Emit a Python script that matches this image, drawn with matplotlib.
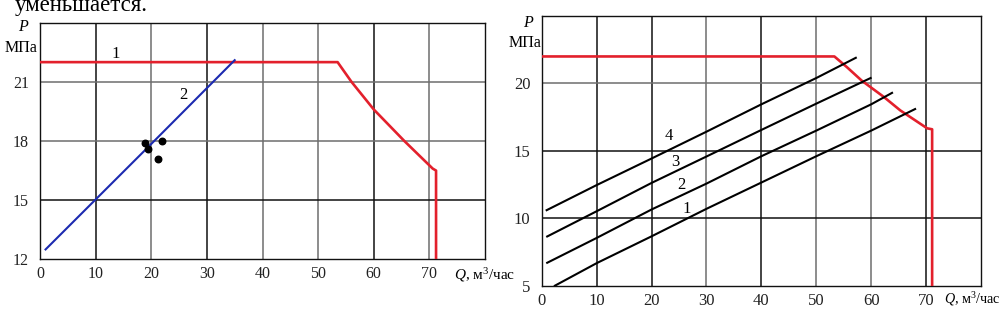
import matplotlib
matplotlib.use("Agg")
import matplotlib.pyplot as plt

plt.rcParams['font.family'] = ['Liberation Serif', 'DejaVu Serif']
plt.rcParams['mathtext.fontset'] = 'custom'
plt.rcParams['mathtext.rm'] = 'Liberation Serif'
plt.rcParams['mathtext.it'] = 'Liberation Serif:italic'

# left chart data
red_q = [0, 53.5, 56, 60, 65.5, 70.6, 71.2, 71.2]
red_p = [22, 22, 21, 19.6, 18, 16.6, 16.5, 12]
blue_q = [1, 20, 35]
blue_p = [12.5, 17.85, 22.1]
dots_q = [18.9, 19.4, 21.9, 21.3]
dots_p = [17.9, 17.6, 18.0, 17.1]
left_yticks = [12, 15, 18, 21]

# right chart data
red2_q = [0, 53.3, 55.6, 58.3, 62.3, 65.3, 70.2, 71.1, 71.1]
red2_p = [22, 22, 21.2, 20.2, 19.0, 18.0, 16.67, 16.6, 5]
line4_q = [0.9, 10, 20, 30, 40, 50, 57.2]
line4_p = [10.6, 12.46, 14.43, 16.42, 18.45, 20.4, 21.9]
line3_q = [1, 10, 20, 30, 40, 50, 59.9]
line3_p = [8.65, 10.52, 12.62, 14.58, 16.55, 18.5, 20.4]
line2_q = [1, 10, 20, 30, 40, 50, 60, 63.8]
line2_p = [6.7, 8.54, 10.65, 12.57, 14.6, 16.5, 18.45, 19.3]
line1_q = [2.4, 10, 20, 30, 40, 50, 60, 68.0]
line1_p = [5.0, 6.67, 8.66, 10.7, 12.65, 14.6, 16.5, 18.1]
right_yticks = [5, 10, 15, 20]
xticks = [0, 10, 20, 30, 40, 50, 60, 70]

RED = '#e3202c'
DARK = '#111111'
GRAY = '#6e6e6e'

fig = plt.figure(figsize=(10.02, 3.11), dpi=100)
W, H = 1002, 311


def make_axes(x0, x1, ytop, ybot):
    return fig.add_axes([x0 / W, 1 - ybot / H, (x1 - x0) / W, (ybot - ytop) / H])


def style_axes(ax, ylim, yticks, vcolors, hcolors, fs):
    ax.set_xlim(0, 80)
    ax.set_ylim(*ylim)
    ax.set_xticks(xticks)
    ax.set_yticks(yticks)
    ax.tick_params(length=0, labelsize=fs, colors='#222222')
    ax.tick_params(axis='y', pad=8)
    ax.tick_params(axis='x', pad=5)
    for q, c in zip(xticks[1:], vcolors):
        ax.axvline(q, color=c, lw=1.1, zorder=1)
    for p, c in zip(yticks[1:], hcolors):
        ax.axhline(p, color=c, lw=1.1, zorder=1)
    for s in ax.spines.values():
        s.set_color(DARK)
        s.set_linewidth(1.0)


# ---- left chart
ax1 = make_axes(40, 485, 22.7, 259.3)
style_axes(ax1, (12, 24), left_yticks,
           [DARK, GRAY, DARK, GRAY, GRAY, DARK, GRAY],
           [DARK, GRAY, GRAY], 11.5)
ax1.plot(red_q, red_p, color=RED, lw=1.9, zorder=3)
ax1.plot(blue_q, blue_p, color='#1c2ab0', lw=1.5, zorder=3)
ax1.scatter(dots_q, dots_p, s=22, color='black', zorder=4)
ax1.text(13.6, 22.4, '1', fontsize=12, ha='center', va='center')
ax1.text(25.7, 20.35, '2', fontsize=12, ha='center', va='center')

# ---- right chart
ax2 = make_axes(541.7, 981, 16, 285.7)
style_axes(ax2, (5, 25), right_yticks,
           [DARK, DARK, GRAY, DARK, GRAY, GRAY, DARK],
           [DARK, DARK, GRAY], 12)
ax2.plot(red2_q, red2_p, color=RED, lw=1.9, zorder=3)
for q, p in [(line4_q, line4_p), (line3_q, line3_p),
             (line2_q, line2_p), (line1_q, line1_p)]:
    ax2.plot(q, p, color='black', lw=1.5, zorder=3)
for lab, q, p in [('4', 23.2, 16.1), ('3', 24.3, 14.2),
                  ('2', 25.5, 12.45), ('1', 26.4, 10.7)]:
    ax2.text(q, p, lab, fontsize=12, ha='center', va='center')

# axis captions
for px, py in [(23, 27), (528, 22.7)]:
    fig.text(px / W, 1 - py / H, 'P', fontsize=11.5, style='italic',
             ha='center', va='center')
for px, py in [(21, 48), (525, 42.7)]:
    fig.text(px / W, 1 - py / H, 'МПа', fontsize=11.5, ha='center', va='center')
fig.text(454 / W, 1 - 275 / H, '$Q$, м$^3$/час', fontsize=11,
         ha='left', va='center')
fig.text(944 / W, 1 - 299 / H, '$Q$, м$^3$/час', fontsize=10.2,
         ha='left', va='center')

fig.text(15 / W, 1 - 11 / H, 'уменьшается.', fontsize=16.5,
         ha='left', va='baseline')

fig.savefig('out.png', dpi=100)
